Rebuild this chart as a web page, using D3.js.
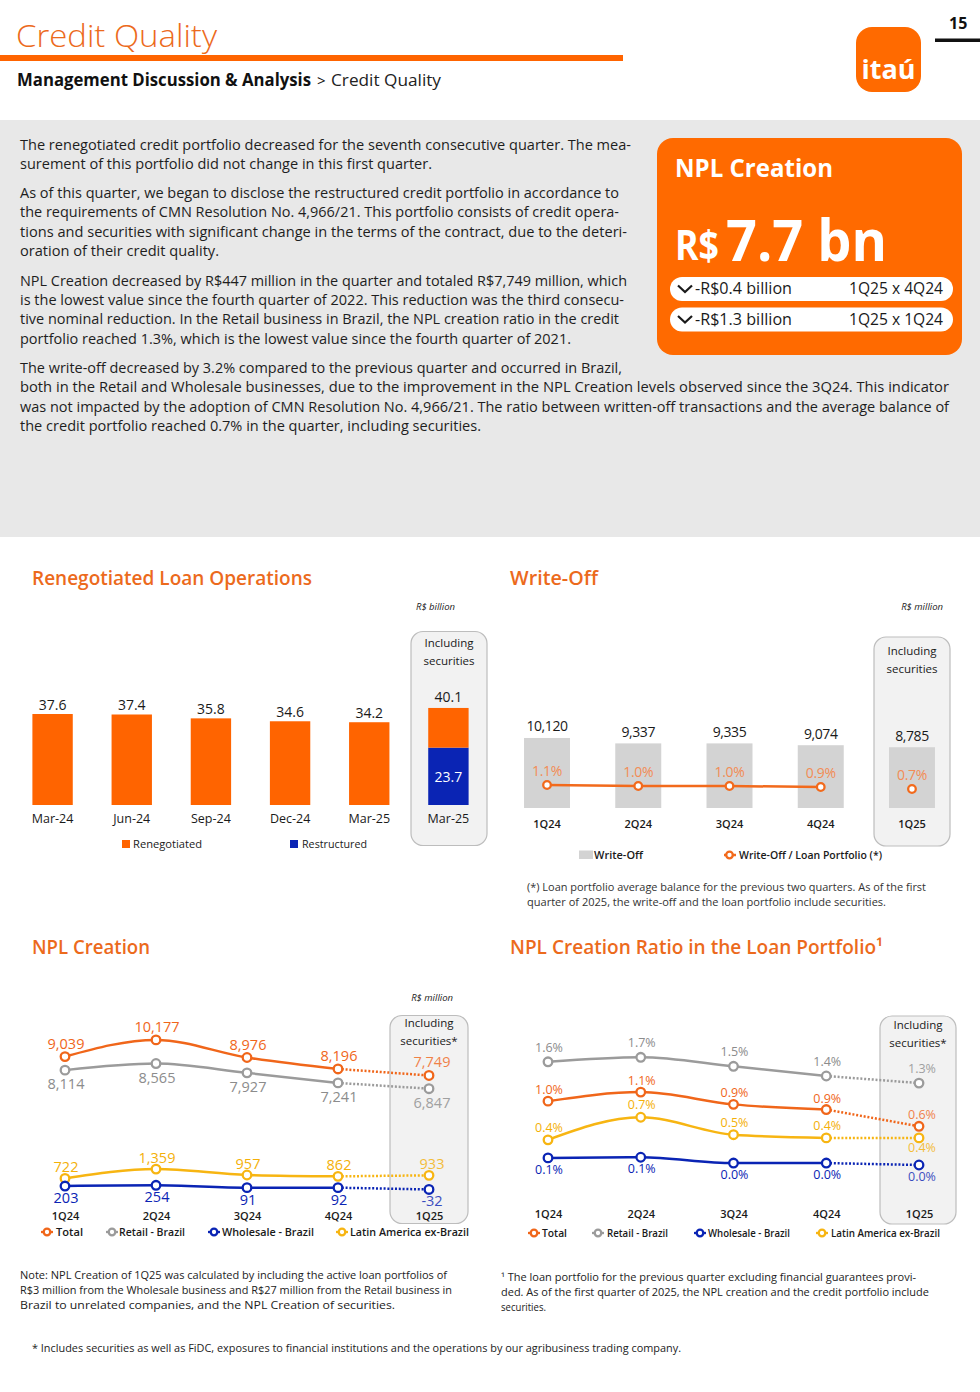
<!DOCTYPE html>
<html><head><meta charset="utf-8">
<script src="https://cdn.jsdelivr.net/npm/d3@7"></script>
<style>
body{margin:0;background:#fff;}
svg{display:block;}
</style></head><body>
<svg id="page" width="980" height="1392"></svg>
<script>
// ---------------- DATA ----------------
const renegCategories = ["Mar-24","Jun-24","Sep-24","Dec-24","Mar-25"];
const renegValues = [37.6,37.4,35.8,34.6,34.2];
const securitiesCategory = "Mar-25";
const securitiesRestructured = 23.7;
const securitiesRenegotiated = 16.4;
const securitiesTotal = 40.1;

const writeOffQuarters = ["1Q24","2Q24","3Q24","4Q24","1Q25"];
const writeOffValues = [10120,9337,9335,9074,8785];
const writeOffRatio = [1.1,1.0,1.0,0.9,0.7];

const nplQuarters = ["1Q24","2Q24","3Q24","4Q24","1Q25"];
const nplTotal = [9039,10177,8976,8196,7749];
const nplRetail = [8114,8565,7927,7241,6847];
const nplWholesale = [203,254,91,92,-32];
const nplLatam = [722,1359,957,862,933];

const ratioTotal = [0.99,1.13,0.94,0.86,0.60];
const ratioRetail = [1.60,1.67,1.53,1.38,1.27];
const ratioWholesale = [0.11,0.12,0.03,0.03,0.00];
const ratioLatam = [0.39,0.74,0.47,0.42,0.42];

const seriesNames = ["Total","Retail - Brazil","Wholesale - Brazil","Latin America ex-Brazil"];

const bodyLines = [
 "The renegotiated credit portfolio decreased for the seventh consecutive quarter. The mea-",
 "surement of this portfolio did not change in this first quarter.",
 "As of this quarter, we began to disclose the restructured credit portfolio in accordance to",
 "the requirements of CMN Resolution No. 4,966/21. This portfolio consists of credit opera-",
 "tions and securities with significant change in the terms of the contract, due to the deteri-",
 "oration of their credit quality.",
 "NPL Creation decreased by R$447 million in the quarter and totaled R$7,749 million, which",
 "is the lowest value since the fourth quarter of 2022. This reduction was the third consecu-",
 "tive nominal reduction. In the Retail business in Brazil, the NPL creation ratio in the credit",
 "portfolio reached 1.3%, which is the lowest value since the fourth quarter of 2021.",
 "The write-off decreased by 3.2% compared to the previous quarter and occurred in Brazil,",
 "both in the Retail and Wholesale businesses, due to the improvement in the NPL Creation levels observed since the 3Q24. This indicator",
 "was not impacted by the adoption of CMN Resolution No. 4,966/21. The ratio between written-off transactions and the average balance of",
 "the credit portfolio reached 0.7% in the quarter, including securities."
];

// ---------------- LAYOUT ----------------
const bodyBaselines = [150,169,198,217,237,256,286,305,324,344,373,392,412,431];
const bodyEnds = [631,432,619,619,627,219,627,624,619,571,622,949,949,481];

const FONT = "'Open Sans','Noto Sans',sans-serif";
const ORANGE = "#EC6A1C", BAR = "#FF6400", BLUE = "#0A24B4";

const svg = d3.select("#page").attr("font-family", FONT);

function txt(g, x, y, s, o = {}) {
  const t = g.append("text").attr("x", x).attr("y", y).text(s)
    .attr("font-size", o.size || 12).attr("fill", o.fill || "#1a1a1a");
  if (o.weight) t.attr("font-weight", o.weight);
  if (o.anchor) t.attr("text-anchor", o.anchor);
  if (o.italic) t.attr("font-style", "italic");
  if (o.width) t.attr("textLength", o.width).attr("lengthAdjust", "spacingAndGlyphs");
  if (o.ls) t.attr("letter-spacing", o.ls);
  if (o.opacity) t.attr("opacity", o.opacity);
  return t;
}
const intFmt = v => (v < 0 ? "-" : "") + d3.format(",")(Math.abs(v));

// ---------------- HEADER ----------------
txt(svg, 16, 47, "Credit Quality", {size: 31, weight: 300, fill: ORANGE, width: 201});
svg.append("rect").attr("x", 0).attr("y", 55).attr("width", 623).attr("height", 6).attr("fill", BAR);
txt(svg, 17, 86, "Management Discussion & Analysis", {size: 17, weight: 700, fill: "#111", width: 294});
txt(svg, 317, 86, ">", {size: 15, fill: "#111"});
txt(svg, 331, 86, "Credit Quality", {size: 17, fill: "#222", width: 110});
txt(svg, 949, 29, "15", {size: 16, weight: 700, fill: "#111"});
svg.append("rect").attr("x", 935).attr("y", 38.5).attr("width", 45).attr("height", 3.5).attr("fill", "#111");
svg.append("rect").attr("x", 856).attr("y", 27).attr("width", 65).attr("height", 65).attr("rx", 16).attr("fill", "#FF6A00");
txt(svg, 888.5, 79, "itaú", {size: 27, weight: 700, fill: "#fff", anchor: "middle", width: 54});

// ---------------- TEXT BLOCK ----------------
svg.append("rect").attr("x", 0).attr("y", 120).attr("width", 980).attr("height", 417).attr("fill", "#e8e8e8");
bodyLines.forEach((s, i) => {
  txt(svg, 20, bodyBaselines[i], s, {size: 14.5, fill: "#1e1e1e", width: bodyEnds[i] - 20});
});

// ---------------- NPL BOX ----------------
svg.append("rect").attr("x", 657).attr("y", 138).attr("width", 305).attr("height", 217).attr("rx", 16).attr("fill", "#FF6A00");
txt(svg, 675, 177, "NPL Creation", {size: 25, weight: 700, fill: "#fff", width: 158});
txt(svg, 675, 260, "R$", {size: 41, weight: 700, fill: "#fff", width: 44});
txt(svg, 726, 261, "7.7 bn", {size: 58, weight: 700, fill: "#fff", width: 161});
const pills = [["-R$0.4 billion", "1Q25 x 4Q24"], ["-R$1.3 billion", "1Q25 x 1Q24"]];
pills.forEach((p, i) => {
  const y0 = 277 + i * 30.5;
  svg.append("rect").attr("x", 670).attr("y", y0).attr("width", 283).attr("height", 24).attr("rx", 12).attr("fill", "#fff");
  svg.append("path").attr("d", `M678,${y0 + 8.5} L685,${y0 + 15} L692,${y0 + 8.5}`).attr("fill", "none").attr("stroke", "#1a1a1a").attr("stroke-width", 2.2);
  txt(svg, 695, y0 + 17, p[0], {size: 16, fill: "#1a1a1a", width: 97});
  txt(svg, 943, y0 + 17, p[1], {size: 16, fill: "#1a1a1a", anchor: "end", width: 94});
});

// ---------------- helpers ----------------
function styleAxis(g, size, weight) {
  g.select(".domain").remove();
  g.selectAll(".tick line").remove();
  g.attr("font-family", FONT);
  g.selectAll(".tick text").attr("y", 0).attr("dy", 0).attr("font-size", size)
    .attr("fill", "#1a1a1a").attr("font-weight", weight || 400);
}
function ring(g, cx, cy, color, r = 4.3) {
  g.append("circle").attr("cx", cx).attr("cy", cy).attr("r", r).attr("fill", "#fff").attr("stroke", color).attr("stroke-width", 2.3);
}
function incBox(g, x, y, w, h, line2, ty) {
  g.append("rect").attr("x", x).attr("y", y).attr("width", w).attr("height", h).attr("rx", 12)
    .attr("fill", "#f2f2f2").attr("stroke", "#bdbdbd").attr("stroke-width", 1.2);
  txt(g, x + w / 2, ty, "Including", {size: 11.5, anchor: "middle", fill: "#1a1a1a"});
  txt(g, x + w / 2, ty + 18, line2, {size: 11.5, anchor: "middle", fill: "#1a1a1a"});
}

// ---------------- RENEGOTIATED ----------------
const rg = svg.append("g");
txt(rg, 32, 585, "Renegotiated Loan Operations", {size: 20, weight: 600, fill: ORANGE, width: 280});
txt(rg, 455, 610, "R$ billion", {size: 9.5, italic: true, anchor: "end", fill: "#222"});
incBox(rg, 411, 631.5, 76, 214, "securities", 647);
const renegLabelsAll = renegCategories.concat([securitiesCategory]);
const xR = d3.scaleBand().domain(d3.range(renegLabelsAll.length)).range([13, 488]).paddingInner(0.49).paddingOuter(0.245);
const yR = d3.scaleLinear().domain([0, 40]).range([805, 708.2]);
rg.selectAll(".rb").data(renegValues).join("rect")
  .attr("x", (d, i) => xR(i)).attr("y", d => yR(d)).attr("width", xR.bandwidth())
  .attr("height", d => yR(0) - yR(d)).attr("fill", BAR);
rg.selectAll(".rl").data(renegValues).join("text")
  .attr("x", (d, i) => xR(i) + xR.bandwidth() / 2).attr("y", d => yR(d) - 4.5)
  .attr("text-anchor", "middle").attr("font-size", 14).attr("fill", "#1a1a1a").text(d => d3.format(".1f")(d));
const si = renegCategories.length;
rg.append("rect").attr("x", xR(si)).attr("y", yR(securitiesRestructured)).attr("width", xR.bandwidth())
  .attr("height", yR(0) - yR(securitiesRestructured)).attr("fill", BLUE);
rg.append("rect").attr("x", xR(si)).attr("y", yR(securitiesRestructured + securitiesRenegotiated)).attr("width", xR.bandwidth())
  .attr("height", yR(securitiesRestructured) - yR(securitiesRestructured + securitiesRenegotiated)).attr("fill", BAR);
txt(rg, xR(si) + xR.bandwidth() / 2, yR(securitiesTotal) - 5.5, d3.format(".1f")(securitiesTotal), {size: 14, anchor: "middle"});
txt(rg, xR(si) + xR.bandwidth() / 2, (yR(0) + yR(securitiesRestructured)) / 2 + 5.5, d3.format(".1f")(securitiesRestructured), {size: 14, anchor: "middle", fill: "#fff"});
const axR = rg.append("g").attr("transform", "translate(0,823)")
  .call(d3.axisBottom(xR).tickSize(0).tickFormat(i => renegLabelsAll[i]));
styleAxis(axR, 12.5, 400);
rg.append("rect").attr("x", 122).attr("y", 840).attr("width", 8).attr("height", 8).attr("fill", BAR);
txt(rg, 133, 848, "Renegotiated", {size: 11.5, width: 69});
rg.append("rect").attr("x", 290).attr("y", 840).attr("width", 8).attr("height", 8).attr("fill", BLUE);
txt(rg, 302, 848, "Restructured", {size: 11.5, width: 65});

// ---------------- WRITE-OFF ----------------
const wg = svg.append("g");
txt(wg, 510, 585, "Write-Off", {size: 20, weight: 600, fill: ORANGE, width: 88});
txt(wg, 943, 610, "R$ million", {size: 9.5, italic: true, anchor: "end", fill: "#222"});
incBox(wg, 874, 637, 76, 209, "securities", 655);
const xW = d3.scaleBand().domain(writeOffQuarters).range([501.4, 957.6]).paddingInner(0.496).paddingOuter(0.248);
const yW = d3.scaleLinear().domain([0, 10000]).range([808, 738.8]);
const yWR = d3.scaleLinear().domain([0, 1]).range([796, 786]);
wg.selectAll(".wb").data(writeOffValues).join("rect")
  .attr("x", (d, i) => xW(writeOffQuarters[i])).attr("y", d => yW(d)).attr("width", xW.bandwidth())
  .attr("height", d => yW(0) - yW(d)).attr("fill", "#d3d3d3");
wg.selectAll(".wl").data(writeOffValues).join("text")
  .attr("x", (d, i) => xW(writeOffQuarters[i]) + xW.bandwidth() / 2).attr("y", d => yW(d) - 6.5)
  .attr("text-anchor", "middle").attr("font-size", 14).attr("letter-spacing", -0.4).attr("fill", "#1a1a1a").text(d => intFmt(d));
const cxW = q => xW(q) + xW.bandwidth() / 2;
const wPts = writeOffRatio.map((v, i) => [cxW(writeOffQuarters[i]), yWR(v)]);
wg.append("path").attr("d", d3.line()(wPts.slice(0, 4))).attr("fill", "none").attr("stroke", "#F26A1C").attr("stroke-width", 2.5);
wPts.forEach(p => ring(wg, p[0], p[1], "#F26A1C", 3.8));
writeOffRatio.forEach((v, i) => txt(wg, wPts[i][0], wPts[i][1] - 9, d3.format(".1f")(v) + "%", {size: 14, anchor: "middle", fill: "#F28C55", ls: -0.3}));
const axW = wg.append("g").attr("transform", "translate(0,828)").call(d3.axisBottom(xW).tickSize(0));
styleAxis(axW, 11, 600);
wg.append("rect").attr("x", 579).attr("y", 850.5).attr("width", 14).attr("height", 8.5).attr("fill", "#d3d3d3");
txt(wg, 594, 859, "Write-Off", {size: 11.5, weight: 600, width: 49});
wg.append("line").attr("x1", 724).attr("x2", 736).attr("y1", 855).attr("y2", 855).attr("stroke", "#F26A1C").attr("stroke-width", 2.5);
ring(wg, 729.5, 855, "#F26A1C", 3.3);
txt(wg, 739, 859, "Write-Off / Loan Portfolio (*)", {size: 11.5, weight: 600, width: 143});
txt(wg, 527, 891, "(*) Loan portfolio average balance for the previous two quarters. As of the first", {size: 10.5, fill: "#333", width: 399});
txt(wg, 527, 906, "quarter of 2025, the write-off and the loan portfolio include securities.", {size: 10.5, fill: "#333", width: 359});

// ---------------- LINE CHART HELPER ----------------
function drawLines(g, x, y, quarters, series, fmt, fsize) {
  series.forEach(s => {
    const pts = s.values.map((v, i) => [x(quarters[i]), y(v)]);
    g.append("path").attr("d", d3.line().curve(d3.curveMonotoneX)(pts.slice(0, 4)))
      .attr("fill", "none").attr("stroke", s.color).attr("stroke-width", 2.5);
    g.append("path").attr("d", d3.line()(pts.slice(3)))
      .attr("fill", "none").attr("stroke", s.color).attr("stroke-width", 2.5).attr("stroke-dasharray", "2 1.8");
  });
  series.forEach(s => {
    s.values.forEach((v, i) => {
      const px = x(quarters[i]), py = y(v);
      ring(g, px, py, s.color, 4.3);
      const off = (s.offsets && s.offsets[i] !== undefined) ? s.offsets[i] : s.offset;
      txt(g, px + (i === 4 ? 3 : 1), py + off, fmt(v), {size: fsize, anchor: "middle", fill: s.label, opacity: i === 4 ? 0.8 : null});
    });
  });
}
function lineLegend(g, items, y) {
  items.forEach(it => {
    g.append("line").attr("x1", it.cx - 6).attr("x2", it.cx + 6).attr("y1", y - 4).attr("y2", y - 4).attr("stroke", it.color).attr("stroke-width", 2.3);
    ring(g, it.cx, y - 4, it.color, 3.3);
    txt(g, it.tx, y, it.name, {size: 11, weight: 600, width: it.w});
  });
}

// ---------------- NPL CREATION ----------------
const ng = svg.append("g");
txt(ng, 32, 954, "NPL Creation", {size: 20, weight: 600, fill: ORANGE, width: 118});
txt(ng, 453, 1001, "R$ million", {size: 9.5, italic: true, anchor: "end", fill: "#222"});
incBox(ng, 390, 1015.5, 78, 208, "securities*", 1027);
const xN = d3.scalePoint().domain(nplQuarters).range([65, 429]);
const yN = d3.scaleLinear().domain([0, 10000]).range([1189, 1042.5]);
drawLines(ng, xN, yN, nplQuarters, [
  {values: nplRetail, color: "#9b9b9b", label: "#8c8c8c", offset: 19},
  {values: nplTotal, color: "#F0661A", label: "#F0661A", offset: -8},
  {values: nplLatam, color: "#F7B512", label: "#F4B008", offset: -6},
  {values: nplWholesale, color: BLUE, label: BLUE, offset: 17}
], intFmt, 14.5);
const axN = ng.append("g").attr("transform", "translate(0,1220)").call(d3.axisBottom(xN).tickSize(0));
styleAxis(axN, 11, 600);
lineLegend(ng, [
  {name: seriesNames[0], color: "#F0661A", cx: 47, tx: 56, w: 27},
  {name: seriesNames[1], color: "#9b9b9b", cx: 112, tx: 119, w: 66},
  {name: seriesNames[2], color: BLUE, cx: 214, tx: 222, w: 92},
  {name: seriesNames[3], color: "#F7B512", cx: 342, tx: 350, w: 119}
], 1236);

// ---------------- NPL RATIO ----------------
const pg = svg.append("g");
txt(pg, 510, 954, "NPL Creation Ratio in the Loan Portfolio\u00B9", {size: 20, weight: 600, fill: ORANGE, width: 373});
incBox(pg, 880, 1016, 76, 208, "securities*", 1029);
const xP = d3.scalePoint().domain(nplQuarters).range([548, 919]);
const yP = d3.scaleLinear().domain([0, 1]).range([1165, 1100.5]);
drawLines(pg, xP, yP, nplQuarters, [
  {values: ratioRetail, color: "#9b9b9b", label: "#8c8c8c", offset: -10},
  {values: ratioTotal, color: "#F0661A", label: "#F0661A", offset: -7},
  {values: ratioLatam, color: "#F7B512", label: "#F4B008", offset: -8, offsets: [undefined, undefined, undefined, undefined, 14]},
  {values: ratioWholesale, color: BLUE, label: BLUE, offset: 16}
], v => d3.format(".1f")(v) + "%", 12.5);
const axP = pg.append("g").attr("transform", "translate(0,1218)").call(d3.axisBottom(xP).tickSize(0));
styleAxis(axP, 11, 600);
lineLegend(pg, [
  {name: seriesNames[0], color: "#F0661A", cx: 534, tx: 542, w: 25},
  {name: seriesNames[1], color: "#9b9b9b", cx: 598, tx: 607, w: 61},
  {name: seriesNames[2], color: BLUE, cx: 700, tx: 708, w: 82},
  {name: seriesNames[3], color: "#F7B512", cx: 822, tx: 831, w: 109}
], 1237);

// ---------------- FOOTNOTES ----------------
const fg = svg.append("g");
txt(fg, 20, 1279, "Note: NPL Creation of 1Q25 was calculated by including the active loan portfolios of", {size: 10.5, fill: "#222", width: 427});
txt(fg, 20, 1294, "R$3 million from the Wholesale business and R$27 million from the Retail business in", {size: 10.5, fill: "#222", width: 432});
txt(fg, 20, 1309, "Brazil to unrelated companies, and the NPL Creation of securities.", {size: 10.5, fill: "#222", width: 375});
txt(fg, 501, 1281, "\u00B9 The loan portfolio for the previous quarter excluding financial guarantees provi-", {size: 10.5, fill: "#222", width: 415});
txt(fg, 501, 1296, "ded. As of the first quarter of 2025, the NPL creation and the credit portfolio include", {size: 10.5, fill: "#222", width: 428});
txt(fg, 501, 1311, "securities.", {size: 10.5, fill: "#222", width: 45});
txt(fg, 32, 1352, "* Includes securities as well as FiDC, exposures to financial institutions and the operations by our agribusiness trading company.", {size: 10.5, fill: "#222", width: 649});
</script>
</body></html>
